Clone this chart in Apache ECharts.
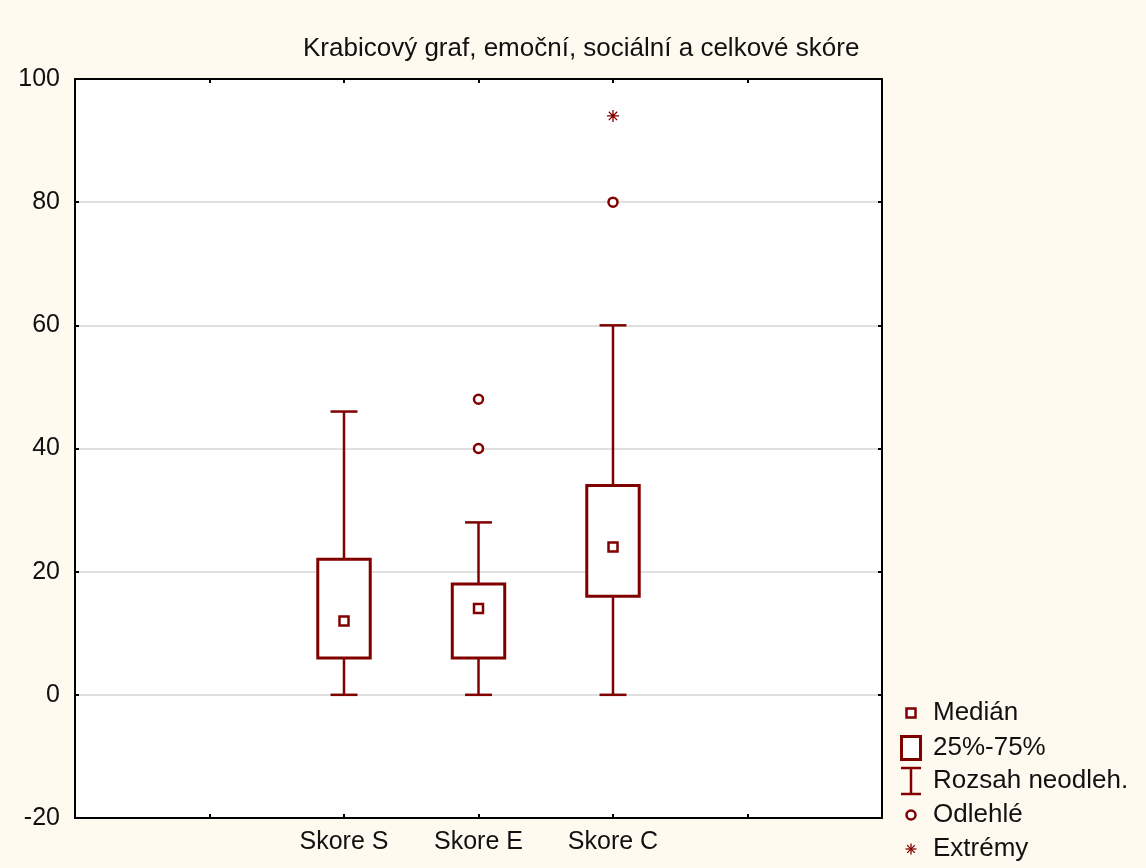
<!DOCTYPE html>
<html>
<head>
<meta charset="utf-8">
<script src="https://cdn.jsdelivr.net/npm/echarts@6/dist/echarts.min.js"></script>
<style>
  html, body { margin: 0; padding: 0; background: #fffaf0; }
  #chart { width: 1146px; height: 868px; }
</style>
</head>
<body>
<div id="chart"></div>
<script>
// ---- data ----
const categories   = ['Skore S', 'Skore E', 'Skore C'];
const whiskerLow   = [0, 0, 0];
const quartile1    = [6, 6, 16];
const medians      = [12, 14, 24];
const quartile3    = [22, 18, 34];
const whiskerHigh  = [46, 28, 60];
const outliers     = [[1, 40], [1, 48], [2, 80]];   // [category index, value]
const extremes     = [[2, 94]];
const yTicks       = [-20, 0, 20, 40, 60, 80, 100];
const legendLabels = ['Medián', '25%-75%', 'Rozsah neodleh.', 'Odlehlé', 'Extrémy'];
const titleText    = 'Krabicový graf, emoční, sociální a celkové skóre';

// ---- styling ----
const RED = '#800000';
const FONT = '"Liberation Sans", Arial, sans-serif';
const SLOT_OFFSET = 2; // categories sit on slots 2,3,4 of a 0..6 axis

const boxData = categories.map((c, i) => [i + SLOT_OFFSET, whiskerLow[i], quartile1[i], quartile3[i], whiskerHigh[i]]);
const medianData = categories.map((c, i) => [i + SLOT_OFFSET, medians[i]]);
const outlierData = outliers.map(o => [o[0] + SLOT_OFFSET, o[1]]);
const extremeData = extremes.map(o => [o[0] + SLOT_OFFSET, o[1]]);

const asterisk = 'path://M6 0L6 12M0 6L12 6M1.8 1.8L10.2 10.2M10.2 1.8L1.8 10.2';

const chart = echarts.init(document.getElementById('chart'), null, { renderer: 'canvas' });

function legendGraphics() {
  const x0 = 911, rows = [713, 748, 781, 815, 849], tx = 933;
  const els = [];
  els.push({ type: 'rect', shape: { x: x0 - 4.5, y: rows[0] - 4.5, width: 9, height: 9 },
             style: { fill: '#fff', stroke: RED, lineWidth: 2.5 } });
  els.push({ type: 'rect', shape: { x: x0 - 9.5, y: rows[1] - 11.5, width: 19, height: 23 },
             style: { fill: '#fff', stroke: RED, lineWidth: 3 } });
  els.push({ type: 'line', shape: { x1: x0 - 10, y1: rows[2] - 13, x2: x0 + 10, y2: rows[2] - 13 }, style: { stroke: RED, lineWidth: 2.5 } });
  els.push({ type: 'line', shape: { x1: x0, y1: rows[2] - 13, x2: x0, y2: rows[2] + 13 }, style: { stroke: RED, lineWidth: 2.5 } });
  els.push({ type: 'line', shape: { x1: x0 - 10, y1: rows[2] + 13, x2: x0 + 10, y2: rows[2] + 13 }, style: { stroke: RED, lineWidth: 2.5 } });
  els.push({ type: 'circle', shape: { cx: x0, cy: rows[3], r: 4.5 }, style: { fill: '#fff', stroke: RED, lineWidth: 2.5 } });
  const s = 5.5;
  [[0, -s, 0, s], [-s, 0, s, 0], [-s * 0.7, -s * 0.7, s * 0.7, s * 0.7], [s * 0.7, -s * 0.7, -s * 0.7, s * 0.7]].forEach(l => {
    els.push({ type: 'line', shape: { x1: x0 + l[0], y1: rows[4] + l[1], x2: x0 + l[2], y2: rows[4] + l[3] }, style: { stroke: RED, lineWidth: 1.3 } });
  });
  legendLabels.forEach((t, i) => {
    els.push({ type: 'text', x: tx, y: rows[i],
               style: { text: t, fill: '#111', font: '26px ' + FONT, textVerticalAlign: 'middle', textAlign: 'left' } });
  });
  return els;
}

const axisLineStyle = { color: '#000', width: 2 };
const tickStyle = { show: true, inside: true, length: 4, lineStyle: { color: '#000', width: 2 } };

const option = {
  backgroundColor: '#fffaf0',
  animation: false,
  title: {
    text: titleText,
    left: 298, top: 31,
    textStyle: { fontFamily: FONT, fontSize: 26, fontWeight: 'normal', color: '#111' }
  },
  grid: { left: 75, right: 264, top: 79, bottom: 50, containLabel: false,
          show: true, backgroundColor: '#ffffff', borderWidth: 0 },
  xAxis: [{
    type: 'value', min: 0, max: 6, interval: 1, position: 'bottom',
    axisLine: { show: true, onZero: false, lineStyle: axisLineStyle },
    axisTick: tickStyle,
    splitLine: { show: false },
    axisLabel: {
      margin: 12, color: '#111', fontFamily: FONT, fontSize: 25,
      formatter: v => categories[v - SLOT_OFFSET] || ''
    }
  }, {
    type: 'value', min: 0, max: 6, interval: 1, position: 'top',
    axisLine: { show: true, onZero: false, lineStyle: axisLineStyle },
    axisTick: tickStyle,
    splitLine: { show: false },
    axisLabel: { show: false }
  }],
  yAxis: [{
    type: 'value', min: yTicks[0], max: yTicks[yTicks.length - 1], interval: 20, position: 'left',
    axisLine: { show: true, onZero: false, lineStyle: axisLineStyle },
    axisTick: tickStyle,
    splitLine: { show: true, lineStyle: { color: '#e0e0e0', width: 2 } },
    axisLabel: { margin: 15, color: '#111', fontFamily: FONT, fontSize: 25 }
  }, {
    type: 'value', min: yTicks[0], max: yTicks[yTicks.length - 1], interval: 20, position: 'right',
    axisLine: { show: true, onZero: false, lineStyle: axisLineStyle },
    axisTick: tickStyle,
    splitLine: { show: false },
    axisLabel: { show: false }
  }],
  graphic: legendGraphics(),
  series: [{
    name: '25%-75%',
    type: 'custom',
    xAxisIndex: 0, yAxisIndex: 0,
    data: boxData,
    encode: { x: 0, y: [1, 2, 3, 4] },
    renderItem: function (params, api) {
      const x = api.value(0);
      const pLo = api.coord([x, api.value(1)]);
      const pQ1 = api.coord([x, api.value(2)]);
      const pQ3 = api.coord([x, api.value(3)]);
      const pHi = api.coord([x, api.value(4)]);
      const boxW = api.size([0.39, 0])[0];
      const capW = api.size([0.2, 0])[0];
      const ls = { stroke: RED, lineWidth: 2.5, fill: null };
      return {
        type: 'group',
        children: [
          { type: 'line', shape: { x1: pQ3[0], y1: pQ3[1], x2: pHi[0], y2: pHi[1] }, style: ls },
          { type: 'line', shape: { x1: pQ1[0], y1: pQ1[1], x2: pLo[0], y2: pLo[1] }, style: ls },
          { type: 'line', shape: { x1: pHi[0] - capW / 2, y1: pHi[1], x2: pHi[0] + capW / 2, y2: pHi[1] }, style: ls },
          { type: 'line', shape: { x1: pLo[0] - capW / 2, y1: pLo[1], x2: pLo[0] + capW / 2, y2: pLo[1] }, style: ls },
          { type: 'rect', shape: { x: pQ1[0] - boxW / 2, y: pQ3[1], width: boxW, height: pQ1[1] - pQ3[1] },
            style: { fill: '#fff', stroke: RED, lineWidth: 3 } }
        ]
      };
    }
  }, {
    name: 'Medián',
    type: 'scatter',
    data: medianData,
    symbol: 'rect', symbolSize: 9,
    itemStyle: { color: '#fff', borderColor: RED, borderWidth: 2.5, opacity: 1 },
    z: 5
  }, {
    name: 'Odlehlé',
    type: 'scatter',
    data: outlierData,
    symbol: 'circle', symbolSize: 9,
    itemStyle: { color: '#fff', borderColor: RED, borderWidth: 2.5, opacity: 1 },
    z: 5
  }, {
    name: 'Extrémy',
    type: 'scatter',
    data: extremeData,
    symbol: asterisk, symbolSize: 12,
    itemStyle: { color: 'none', borderColor: RED, borderWidth: 1.3, opacity: 1 },
    z: 5
  }]
};

chart.setOption(option);
</script>
</body>
</html>
